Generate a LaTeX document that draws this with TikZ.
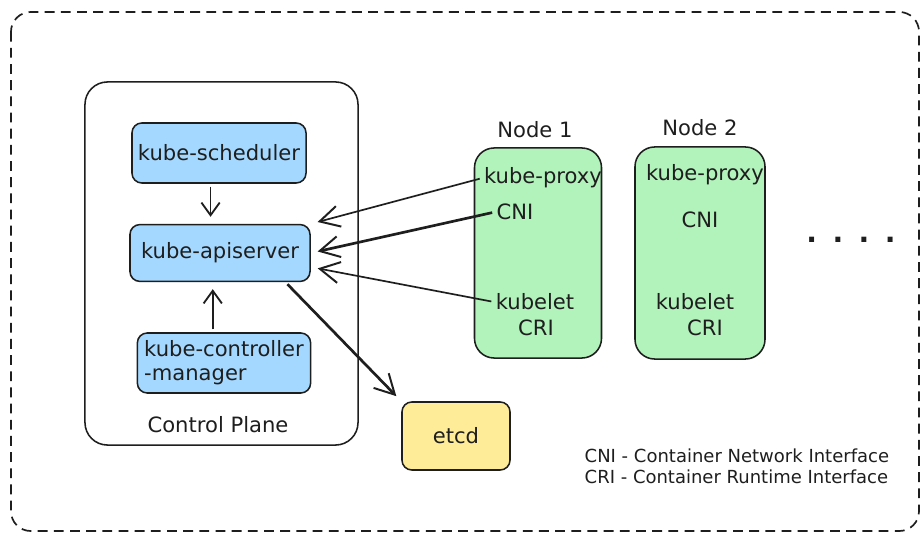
\documentclass[tikz,border=0pt]{standalone}
\usepackage{fontspec}
\setmainfont{DejaVu Sans}
\usetikzlibrary{arrows.meta}

\definecolor{ink}{HTML}{1E1E1E}
\definecolor{cpblue}{HTML}{A5D8FF}
\definecolor{wkgreen}{HTML}{B2F2BB}
\definecolor{dbyellow}{HTML}{FFEC99}

\begin{document}
\begin{tikzpicture}[
    x=0.025cm, y=-0.025cm,
    txt/.style={font=\fontsize{15}{17}\selectfont, text=ink, inner sep=1pt},
    comp/.style={txt, draw=ink, line width=1.1pt, rounded corners=7pt, fill=cpblue, align=left},
    worker/.style={draw=ink, line width=1.1pt, rounded corners=14pt, fill=wkgreen},
    arrow/.style={-{Straight Barb[length=9pt,width=13pt,line width=1.3pt]}, line width=1.2pt, draw=ink, shorten >=5pt, shorten <=2pt},
    longarrow/.style={arrow, -{Straight Barb[length=14pt,width=15pt,line width=1.4pt]}},
    heavy/.style={longarrow, line width=1.9pt}
  ]
  \useasboundingbox (0,0) rectangle (923,538);

  % Cluster frame
  \draw[ink, line width=1.2pt, dash pattern=on 7pt off 4.5pt, rounded corners=14pt]
    (11,12) rectangle (919,531);

  % Control plane
  \node[draw=ink, line width=1.1pt, rounded corners=16pt, fill=white,
        minimum width=6.825cm, minimum height=9.075cm] (plane) at (221.5,263.5) {};
  \node[comp, minimum width=4.35cm, minimum height=1.5cm] (sched) at (219,153) {kube-scheduler};
  \node[comp, minimum width=4.5cm, minimum height=1.42cm] (api) at (220,253) {kube-apiserver};
  \node[comp, minimum width=4.33cm, minimum height=1.5cm] (ctrl) at (224,363) {kube-controller\\-manager};
  \node[txt] (planelbl) at (218,425) {Control Plane};

  % etcd
  \node[comp, fill=dbyellow, align=center, minimum width=2.7cm, minimum height=1.7cm] (etcd) at (456,436) {etcd};

  % Worker nodes
  \node[worker, minimum width=3.175cm, minimum height=5.25cm] (node1) at (538,253) {};
  \node[txt] (node1lbl) at (535,130) {Node 1};
  \node[txt] (n1proxy) at (543,178) {kube-proxy};
  \node[txt] (n1cni) at (515,212) {CNI};
  \node[txt] (n1kubelet) at (535,302) {kubelet};
  \node[txt] (n1cri) at (536,328) {CRI};

  \node[worker, minimum width=3.25cm, minimum height=5.3cm] (node2) at (700,253) {};
  \node[txt] (node2lbl) at (700,128) {Node 2};
  \node[txt] (n2proxy) at (705,175) {kube-proxy};
  \node[txt] (n2cni) at (700,220) {CNI};
  \node[txt] (n2kubelet) at (695,302) {kubelet};
  \node[txt] (n2cri) at (705,328) {CRI};

  \node[txt, font=\fontsize{20}{20}\selectfont\bfseries] (more) at (851,240)
    {.\hspace{11pt}.\hspace{11pt}.\hspace{11pt}.};

  % Legend
  \node[txt, font=\fontsize{12.8}{15}\selectfont, anchor=west, align=left] (legend) at (583,466)
    {CNI - Container Network Interface\\CRI - Container Runtime Interface};

  % Connections
  \draw[arrow] ([xshift=-6pt]sched.south) -- ([xshift=-6pt]sched.south |- api.north);
  \draw[arrow] ([xshift=-8pt]ctrl.north) -- ([xshift=-8pt]ctrl.north |- api.south);
  \draw[longarrow] (n1proxy.west) -- (api.north east);
  \draw[heavy] (n1cni.west) -- (api.east);
  \draw[longarrow] (n1kubelet.west) -- ([yshift=-10pt]api.east);
  \draw[heavy] ([xshift=-18pt]api.south east) -- (etcd.north west);
\end{tikzpicture}
\end{document}
